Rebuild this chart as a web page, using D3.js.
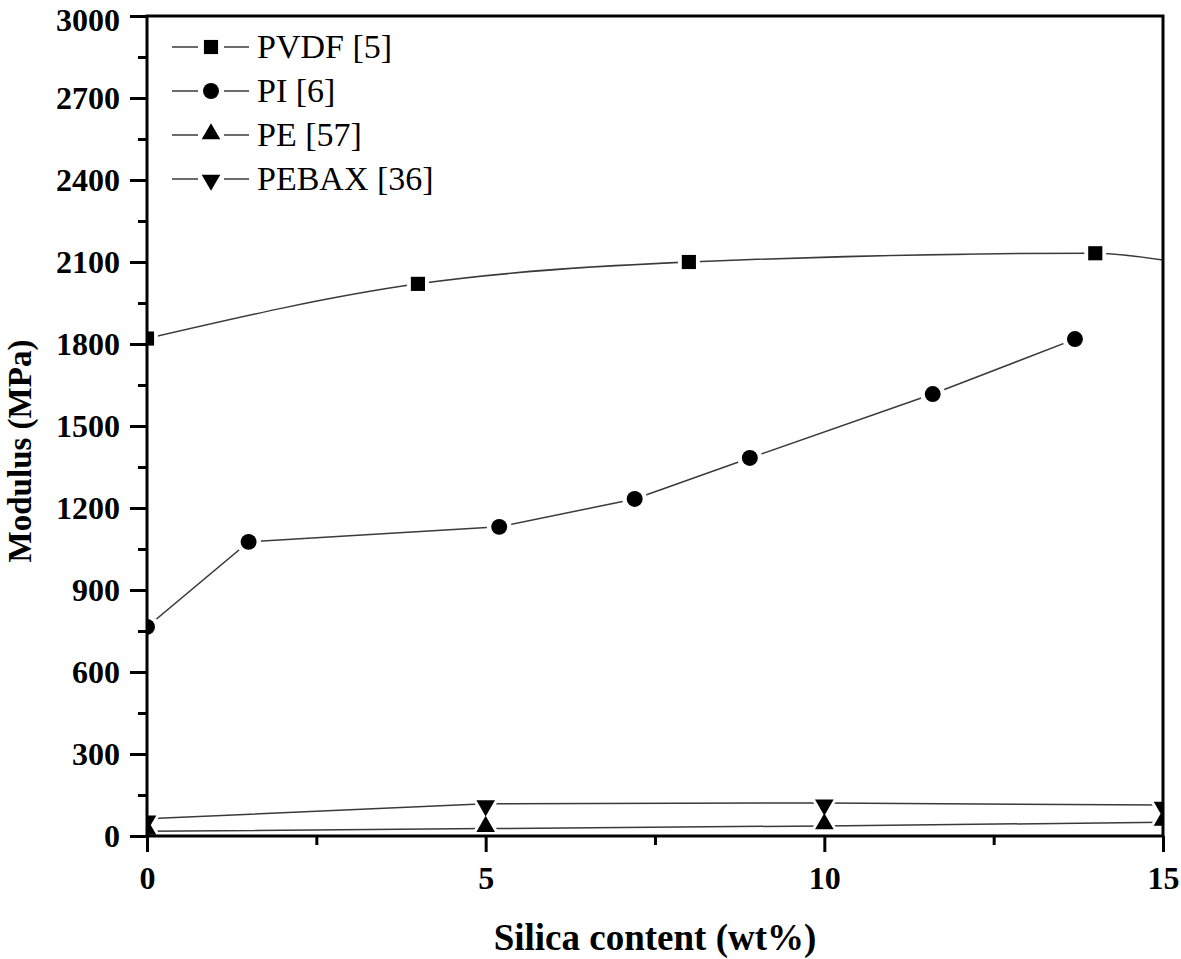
<!DOCTYPE html>
<html><head><meta charset="utf-8">
<script src="https://cdn.jsdelivr.net/npm/d3@7"></script>
<style>body{margin:0;background:#fff}svg{display:block}</style>
</head><body>
<script>
// ---- data ----
const pvdfX = [0, 4, 8, 14];
const pvdfY = [1820, 2020, 2100, 2132];
const pvdfTailX = [15];          // curve continues to the right frame
const pvdfTailY = [2107];
const piX = [0, 1.5, 5.2, 7.2, 8.9, 11.6, 13.7];
const piY = [765, 1076, 1131, 1233, 1383, 1617, 1818];
const peX = [0, 5, 10, 15];
const peY = [17, 27, 37, 50];
const pebaxX = [0, 5, 10, 15];
const pebaxY = [63, 118, 121, 113];
const seriesNames = ["PVDF [5]", "PI [6]", "PE [57]", "PEBAX [36]"];
const xTicks = [0, 5, 10, 15];
const xMinorTicks = [2.5, 7.5, 12.5];
const yTicks = [0, 300, 600, 900, 1200, 1500, 1800, 2100, 2400, 2700, 3000];
const yMinorTicks = [150, 450, 750, 1050, 1350, 1650, 1950, 2250, 2550, 2850];
const xTitle = "Silica content (wt%)";
const yTitle = "Modulus (MPa)";

const W = 1181, H = 959;
const L = 147, R = 1163, T = 16, B = 836;
const svg = d3.select("body").append("svg").attr("width", W).attr("height", H);
const x = d3.scaleLinear().domain([0, 15]).range([L, R]);
const y = d3.scaleLinear().domain([0, 3000]).range([B, T]);

svg.append("defs").append("clipPath").attr("id", "clip")
  .append("rect").attr("x", L).attr("y", T).attr("width", R - L).attr("height", B - T);

const zip = (a, b) => a.map((v, i) => [v, b[i]]);
const series = [
  { pts: zip(pvdfX, pvdfY), line: zip(pvdfX.concat(pvdfTailX), pvdfY.concat(pvdfTailY)), sym: d3.symbolSquare, size: 200, curve: d3.curveMonotoneX },
  { pts: zip(piX, piY), line: zip(piX, piY), sym: d3.symbolCircle, size: 200, curve: d3.curveLinear },
  { pts: zip(peX, peY), line: zip(peX, peY), sym: d3.symbolTriangle, size: 150, curve: d3.curveLinear, rot: 0, dy: -2 },
  { pts: zip(pebaxX, pebaxY), line: zip(pebaxX, pebaxY), sym: d3.symbolTriangle, size: 150, curve: d3.curveLinear, rot: 180, dy: 2 }
];

const plot = svg.append("g").attr("clip-path", "url(#clip)");
// lines
series.forEach(s => {
  plot.append("path").datum(s.line)
    .attr("fill", "none").attr("stroke", "#3a3a3a").attr("stroke-width", 1.5)
    .attr("d", d3.line().x(d => x(d[0])).y(d => y(d[1])).curve(s.curve));
});
// white halos (gap between line and marker)
series.forEach(s => {
  plot.selectAll(null).data(s.pts).enter().append("path")
    .attr("d", d3.symbol().type(s.sym).size(s.size * 2.4))
    .attr("fill", "#fff")
    .attr("transform", d => `translate(${x(d[0])},${y(d[1]) + (s.dy || 0)}) rotate(${s.rot || 0})`);
});
// markers
series.forEach(s => {
  plot.selectAll(null).data(s.pts).enter().append("path")
    .attr("d", d3.symbol().type(s.sym).size(s.size))
    .attr("fill", "#000")
    .attr("transform", d => `translate(${x(d[0])},${y(d[1]) + (s.dy || 0)}) rotate(${s.rot || 0})`);
});

// frame
svg.append("rect").attr("x", L).attr("y", T).attr("width", R - L).attr("height", B - T)
  .attr("fill", "none").attr("stroke", "#000").attr("stroke-width", 3);

const font = "'Liberation Serif','Times New Roman','DejaVu Serif',serif";
// x axis
svg.append("g").attr("transform", `translate(0,${B})`)
  .call(d3.axisBottom(x).tickValues(xTicks).tickSize(16).tickPadding(14).tickFormat(d3.format("d")));
svg.append("g").attr("transform", `translate(0,${B})`)
  .call(d3.axisBottom(x).tickValues(xMinorTicks).tickSize(9).tickFormat(""));
// y axis
const yAx = svg.append("g").attr("transform", `translate(${L},0)`)
  .call(d3.axisLeft(y).tickValues(yTicks).tickSize(17).tickPadding(10).tickFormat(d3.format("d")));
svg.append("g").attr("transform", `translate(${L},0)`)
  .call(d3.axisLeft(y).tickValues(yMinorTicks).tickSize(9).tickFormat(""));
svg.selectAll(".domain").remove();
svg.selectAll(".tick line").attr("stroke", "#000").attr("stroke-width", 3);
svg.selectAll(".tick text").attr("fill", "#000")
  .style("font-family", font).style("font-weight", "bold").style("font-size", "32px");
// keep the top label fully inside the page
yAx.selectAll(".tick").filter(d => d === 3000).select("text").attr("dy", "0.45em");

// titles
svg.append("text").attr("x", (L + R) / 2).attr("y", 950).attr("text-anchor", "middle")
  .style("font-family", font).style("font-weight", "bold").style("font-size", "37px").text(xTitle);
svg.append("text").attr("transform", `translate(31,${(T + B) / 2 + 25}) rotate(-90)`).attr("text-anchor", "middle")
  .style("font-family", font).style("font-weight", "bold").style("font-size", "33px").text(yTitle);

// legend
const leg = svg.append("g");
series.forEach((s, i) => {
  const cy = 47 + i * 44;
  const g = leg.append("g").attr("transform", `translate(0,${cy})`);
  g.append("line").attr("x1", 172).attr("x2", 198).attr("stroke", "#3a3a3a").attr("stroke-width", 1.5);
  g.append("line").attr("x1", 224).attr("x2", 249).attr("stroke", "#3a3a3a").attr("stroke-width", 1.5);
  g.append("path").attr("d", d3.symbol().type(s.sym).size(s.size))
    .attr("transform", `translate(211,${(s.dy || 0) * 0.5}) rotate(${s.rot || 0})`).attr("fill", "#000");
  g.append("text").attr("x", 257).attr("y", 11)
    .style("font-family", font).style("font-size", "34px").text(seriesNames[i]);
});
</script>
</body></html>
